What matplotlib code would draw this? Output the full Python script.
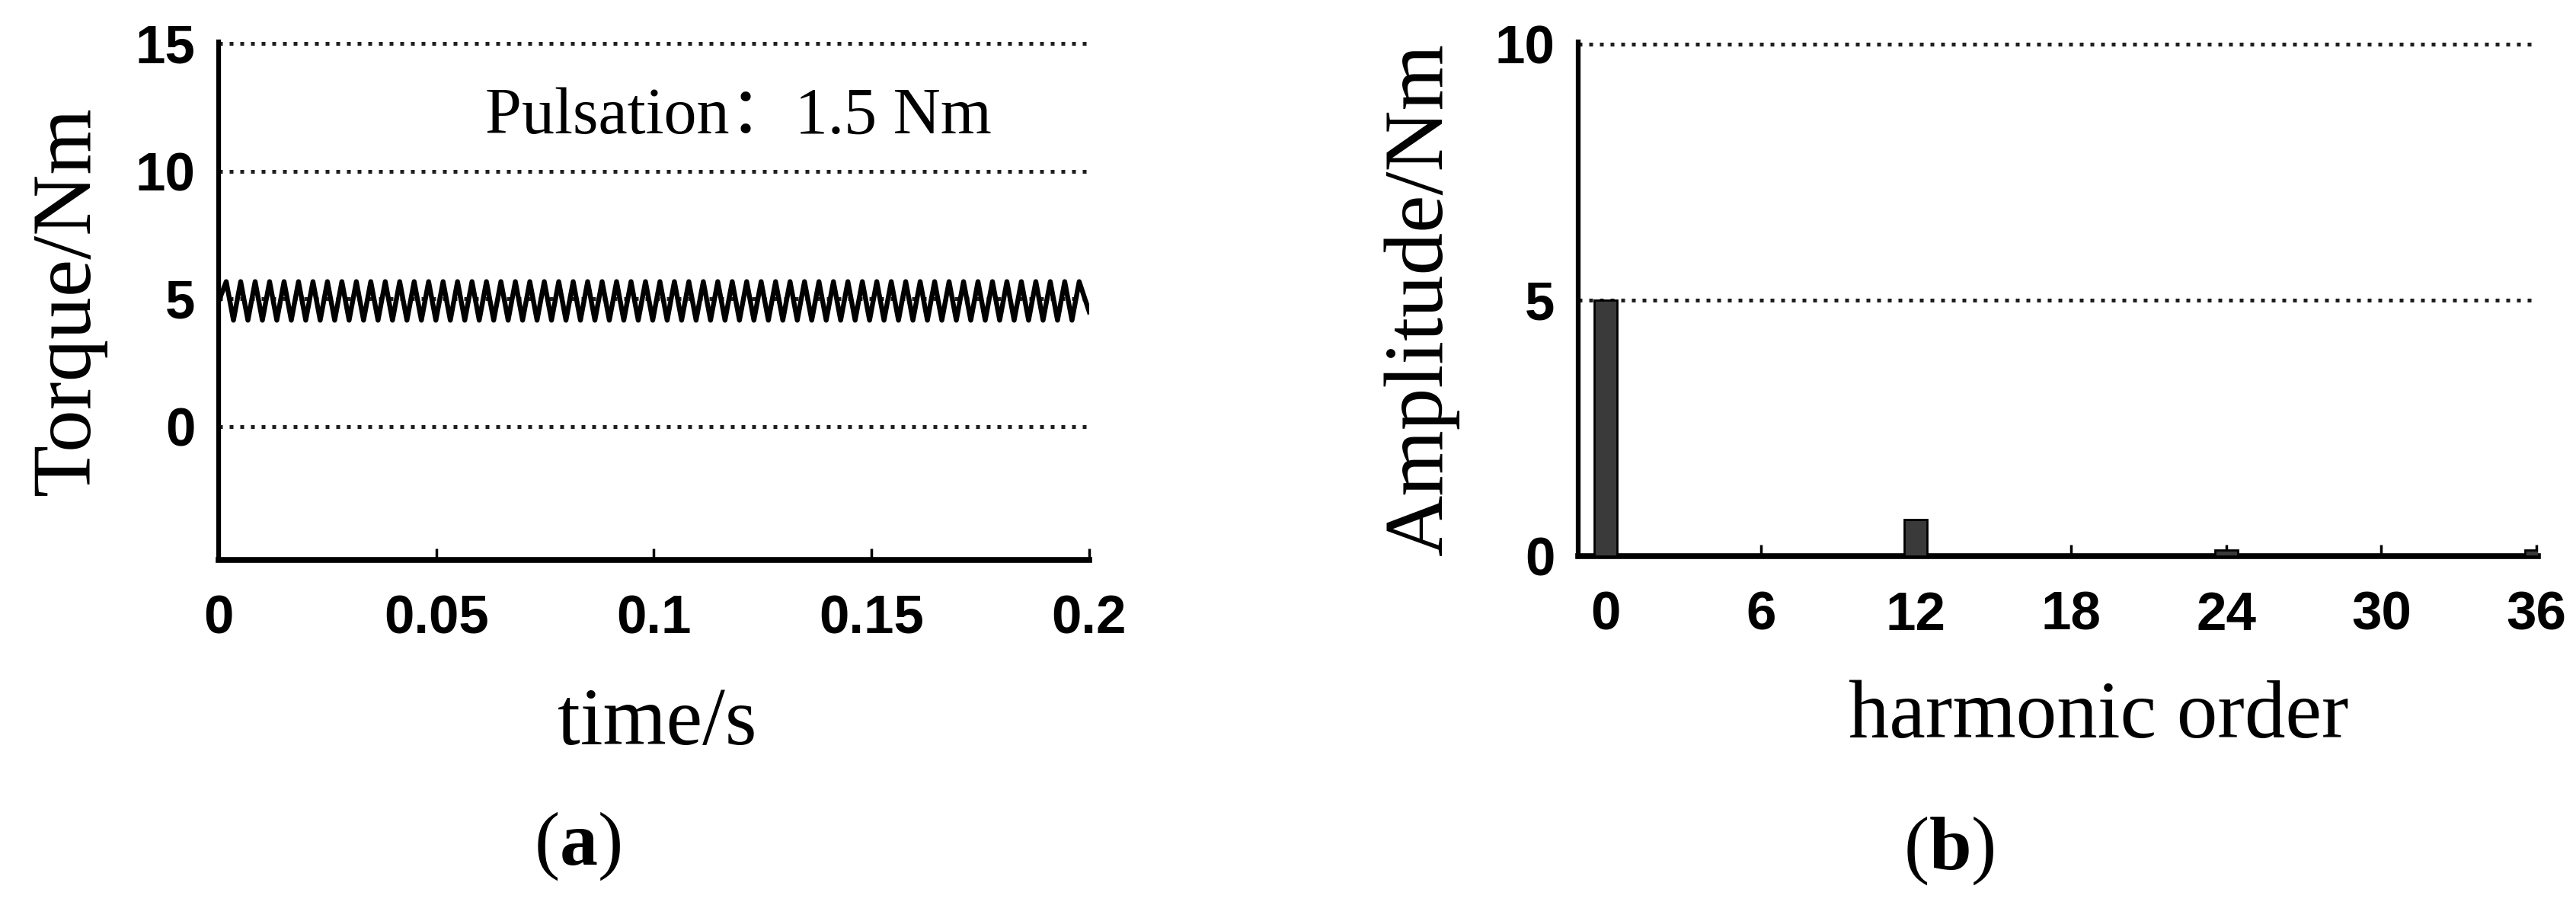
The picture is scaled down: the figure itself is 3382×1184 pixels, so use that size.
import matplotlib.pyplot as plt
import numpy as np

plt.rcParams['mathtext.fontset'] = 'custom'
plt.rcParams['mathtext.rm'] = 'Liberation Serif'
plt.rcParams['mathtext.bf'] = 'Liberation Serif:bold'

# (a) torque vs time: peaks and troughs, in order
t_start, t_end = 0.0, 0.2
torque_start, torque_end = 4.9, 4.5
t_first_peak, t_last_peak = 0.00175, 0.1977
torque_extrema = [
    5.68, 4.17, 5.68, 4.17, 5.68, 4.17, 5.68, 4.17, 5.68, 4.17,
    5.68, 4.17, 5.68, 4.17, 5.68, 4.17, 5.68, 4.17, 5.68, 4.17,
    5.68, 4.17, 5.68, 4.17, 5.68, 4.17, 5.68, 4.17, 5.68, 4.17,
    5.68, 4.17, 5.68, 4.17, 5.68, 4.17, 5.68, 4.17, 5.68, 4.17,
    5.68, 4.17, 5.68, 4.17, 5.68, 4.17, 5.68, 4.17, 5.68, 4.17,
    5.68, 4.17, 5.68, 4.17, 5.68, 4.17, 5.68, 4.17, 5.68, 4.17,
    5.68, 4.17, 5.68, 4.17, 5.68, 4.17, 5.68, 4.17, 5.68, 4.17,
    5.68, 4.17, 5.68, 4.17, 5.68, 4.17, 5.68, 4.17, 5.68, 4.17,
    5.68, 4.17, 5.68, 4.17, 5.68, 4.17, 5.68, 4.17, 5.68, 4.17,
    5.68, 4.17, 5.68, 4.17, 5.68, 4.17, 5.68, 4.17, 5.68, 4.17,
    5.68, 4.17, 5.68, 4.17, 5.68, 4.17, 5.68, 4.17, 5.68, 4.17,
    5.68, 4.17, 5.68, 4.17, 5.68, 4.17, 5.68, 4.17, 5.68,
]
time_ticks = [0, 0.05, 0.1, 0.15, 0.2]
time_ticklabels = ['0', '0.05', '0.1', '0.15', '0.2']
torque_ticks = [0, 5, 10, 15]

# (b) harmonic spectrum
harmonic_order = [0, 6, 12, 18, 24, 30, 36]
amplitude = [5.0, 0.03, 0.72, 0.03, 0.12, 0.03, 0.12]
amplitude_ticks = [0, 5, 10]

t_peaks = np.linspace(t_first_peak, t_last_peak, len(torque_extrema))
t = np.concatenate(([t_start], t_peaks, [t_end]))
torque = np.concatenate(([torque_start], torque_extrema, [torque_end]))

W, H = 3382, 1184
fig = plt.figure(figsize=(W / 100, H / 100), dpi=100)
ax1 = fig.add_axes([287 / W, 1 - 735 / H, 1143 / W, 680 / H])
ax2 = fig.add_axes([2072 / W, 1 - 730 / H, 1260 / W, 675 / H])

tick_font = dict(family='Liberation Sans', weight='bold', size=51)
label_font = dict(family='Liberation Serif', size=77)
ylabel_font = dict(family='Liberation Serif', size=80)
grid_style = dict(linestyle=(0, (1, 1.8)), linewidth=3.6, color='#1e1e1e')

for ax in (ax1, ax2):
    ax.spines['top'].set_visible(False)
    ax.spines['right'].set_visible(False)
    ax.spines['left'].set_linewidth(4.5)
    ax.spines['bottom'].set_linewidth(5.5)
    ax.yaxis.grid(True, **grid_style)
    ax.set_axisbelow(True)
    ax.tick_params(axis='x', direction='in', length=11, width=2.5, pad=33)
    ax.tick_params(axis='y', direction='in', length=0, pad=22)

# (a)
ax1.plot(t, torque, color='black', linewidth=4.6, solid_joinstyle='round', zorder=3)
ax1.set_xlim(0, 0.2)
ax1.set_ylim(-5.2, 15.05)
ax1.set_xticks(time_ticks)
ax1.set_xticklabels(time_ticklabels, **tick_font)
ax1.set_yticks(torque_ticks)
ax1.set_yticklabels([str(v) for v in torque_ticks], **tick_font)
ax1.set_ylabel('Torque/Nm', va='center', **ylabel_font)
ax1.yaxis.set_label_coords(-0.172, 0.5)
ax1.set_xlabel('time/s', va='center', **label_font)
ax1.xaxis.set_label_coords(0.504, -0.318)
ax1.text(0.0612, 12.1, 'Pulsation：1.5 Nm', ha='left', va='center', size=62,
         family=['Liberation Serif', 'Noto Sans CJK SC'])

# (b)
ax2.bar(harmonic_order, amplitude, width=0.88, color='#3a3a3a',
        edgecolor='black', linewidth=2, zorder=3)
ax2.set_xlim(-1.06, 36.06)
ax2.set_ylim(0, 10.05)
ax2.set_xticks(harmonic_order)
ax2.set_xticklabels([str(v) for v in harmonic_order], **tick_font)
ax2.set_yticks(amplitude_ticks)
ax2.set_yticklabels([str(v) for v in amplitude_ticks], **tick_font)
ax2.set_ylabel('Amplitude/Nm', va='center', **ylabel_font)
ax2.yaxis.set_label_coords(-0.163, 0.5)
ax2.set_xlabel('harmonic order', va='center', **label_font)
ax2.xaxis.set_label_coords(0.542, -0.314)

fig.text(758 / W, 1 - 1111 / H, r'($\mathbf{a}$)', ha='center', va='center',
         family='Liberation Serif', size=72)
fig.text(2559 / W, 1 - 1117 / H, r'($\mathbf{b}$)', ha='center', va='center',
         family='Liberation Serif', size=72)

fig.savefig('out.png', dpi=100)
